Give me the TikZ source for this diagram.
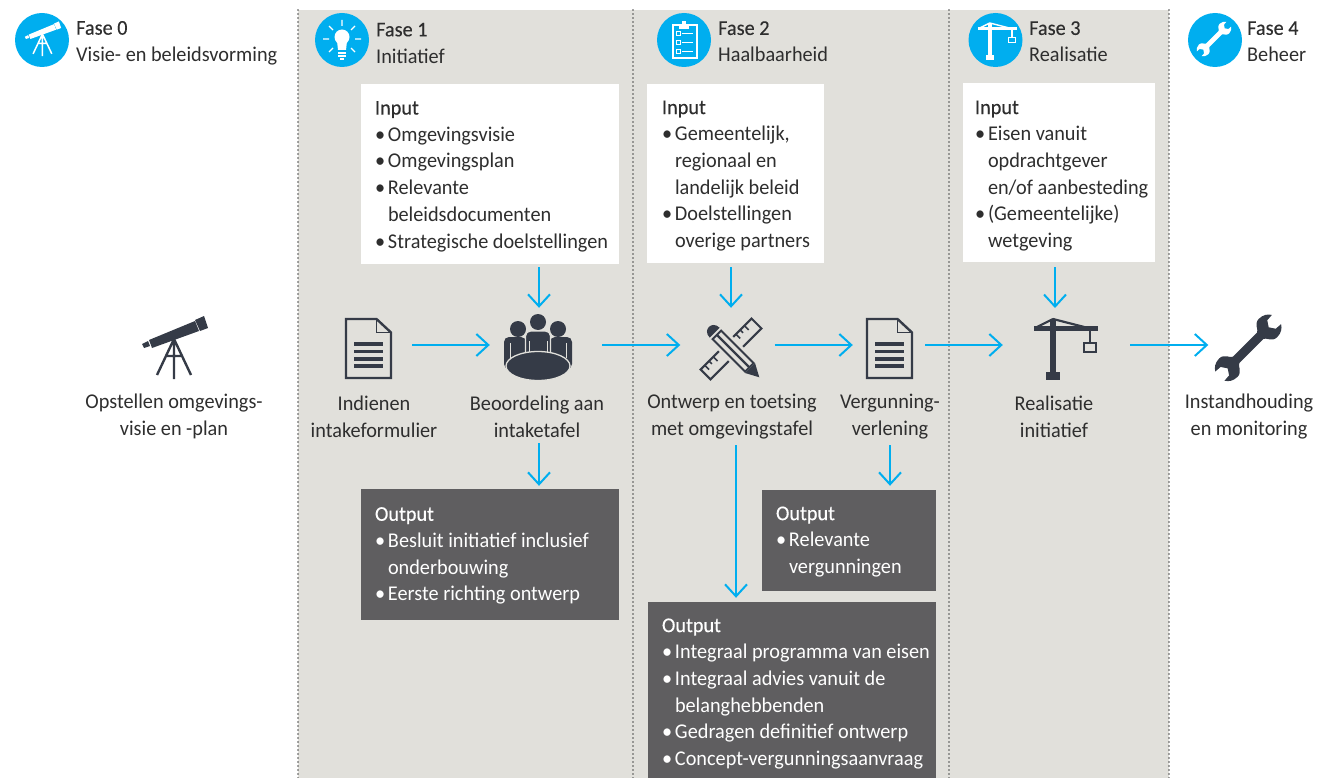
\documentclass[tikz,border=0pt]{standalone}
\usepackage{fontspec}
\setmainfont[FakeStretch=0.965]{Carlito}
\newfontfamily\medfont[FakeStretch=0.965,FakeBold=0.25]{Carlito}
\usetikzlibrary{arrows.meta}
\definecolor{panelgrey}{HTML}{E1E0DB}
\definecolor{outgrey}{HTML}{5F5E60}
\definecolor{flowblue}{HTML}{00AEEF}
\definecolor{icondark}{HTML}{353B47}
\definecolor{txt}{HTML}{2E2E2E}
\newcommand{\bl}{\makebox[13pt][l]{\textbullet}}
\newcommand{\ind}{\hspace*{13pt}}
\newcommand{\hd}[1]{{\medfont #1}}
\newcommand{\boxtxt}[3]{\raisebox{0pt}[\dimexpr\height+#2pt\relax][\depth]{\makebox[#1pt][l]{\begin{tabular}{@{}l@{}}#3\end{tabular}}}}
\tikzset{
 panel/.style={fill=panelgrey,draw=none},
 sep/.style={draw=txt!85,line width=1.6pt,line cap=round,dash pattern=on 0pt off 4pt},
 flow/.style={draw=flowblue,line width=2pt,-{Straight Barb[length=12pt,width=22pt,line width=2pt]}},
 inbox/.style={fill=white,inner sep=0pt,text=txt,align=left,font=\fontsize{21}{26.7}\selectfont,anchor=center},
 outbox/.style={fill=outgrey,inner sep=0pt,text=white,align=left,font=\fontsize{21}{26.7}\selectfont,anchor=center},
 lab/.style={text=txt,align=center,font=\fontsize{21}{26.7}\selectfont,inner sep=0pt},
 faselab/.style={text=txt,align=left,anchor=west,font=\fontsize{21}{26.7}\selectfont,inner sep=0pt},
 circ/.style={fill=flowblue,draw=none,circle,minimum size=54pt,inner sep=0pt},
 slot/.style={inner sep=0pt,draw=none},
 pics/telesc/.style={code={
  \fill[#1] (-26,-8)--(20,-27)--(24,-17)--(-23,0)--cycle;
  \fill[#1] (20,-28)--(29,-32)--(33,-20)--(25,-17)--cycle;
  \fill[#1] (-33,-4)--(-27,-7)--(-25,-2)--(-31,0)--cycle;
  \draw[#1,line width=2pt*\pgfkeysvalueof{/tikz/iconw}] (-1,-9)--(-18,27) (-1,-9)--(16,27) (-1,-9)--(-1,31) (-10,8)--(8,8);
 }},
 pics/crane/.style={code={
  \fill[#1] (-15,-30) rectangle (-9,31);
  \fill[#1] (-31,-23) rectangle (33,-18);
  \fill[#1] (-19,23) rectangle (-5,31);
  \draw[#1,line width=2pt*\pgfkeysvalueof{/tikz/iconw}] (-12,-30)--(-30,-21) (-12,-30)--(27,-20);
  \draw[#1,line width=2pt*\pgfkeysvalueof{/tikz/iconw}] (25,-20)--(25,-6) (19,-6) rectangle (31,3);
 }},
 pics/wrench/.style={code={
  \fill[#1] (4.5,-17) .. controls (5,-20) and (13,-21) .. (13,-28)
    .. controls (13,-34) and (10,-38) .. (6.5,-40) -- (6,-33) -- (0,-29) -- (-6,-33) -- (-6.5,-40)
    .. controls (-10,-38) and (-13,-34) .. (-13,-28)
    .. controls (-13,-21) and (-5,-20) .. (-4.5,-17) -- (-4.5,17)
    .. controls (-5,20) and (-13,21) .. (-13,28)
    .. controls (-13,34) and (-10,38) .. (-6.5,40) -- (-6,33) -- (0,29) -- (6,33) -- (6.5,40)
    .. controls (10,38) and (13,34) .. (13,28)
    .. controls (13,21) and (5,20) .. (4.5,17) -- cycle;
 }},
 iconw/.initial=1,
}
\begin{document}
\begin{tikzpicture}[x=1pt,y=-1pt]
\useasboundingbox (0,0) rectangle (1325,778);
% panels
\fill[panel] (298,10) rectangle (1169,778);
\foreach \x in {298,633,949,1169}{\draw[sep] (\x,10)--(\x,778);}
% headers
\node[circ] (c0) at (42,40) {};
\node[circ] (c1) at (342,40) {};
\node[circ] (c2) at (684,40) {};
\node[circ] (c3) at (995.5,40) {};
\node[circ] (c4) at (1215,40) {};
\pic[scale=.55,iconw=.75] at (43,39) {telesc=white};
% lightbulb
\fill[white] (342,37) circle (7.5);
\fill[white] (337,41)--(347,41)--(346,50)--(338,50)--cycle;
\draw[white,line width=1.6pt] (338,53)--(346,53) (338,56)--(346,56) (340,59)--(344,59);
\draw[white,line width=1.2pt] (342,20)--(342,26) (323,39)--(329,39) (355,39)--(361,39) (329,26)--(333,30) (355,26)--(351,30) (329,52)--(333,48) (355,52)--(351,48);
% clipboard
\draw[white,line width=1.1pt] (673,25) rectangle (697,58);
\fill[white] (679,24) rectangle (689,29);
\fill[white] (682,21.5) rectangle (686,25);
\foreach \y in {34,43,52}{
 \draw[white,line width=.8pt] (676,\y-2.5) rectangle (680,\y+1.5);
 \fill[white] (682,\y-1) rectangle (693,\y+.5);
}
\pic[scale=.6,iconw=.7] at (997,41) {crane=white};
\pic[scale=.52,rotate=-45] at (1214,39) {wrench=white};
\node[faselab] (f0) at (76,43) {\hd{Fase 0}\\Visie- en beleidsvorming};
\node[faselab] (f1) at (376,43) {\hd{Fase 1}\\Initiatief};
\node[faselab] (f2) at (718,41.5) {\hd{Fase 2}\\Haalbaarheid};
\node[faselab] (f3) at (1029,41.5) {\hd{Fase 3}\\Realisatie};
\node[faselab] (f4) at (1247,41.5) {\hd{Fase 4}\\Beheer};
% input boxes
\node[inbox,minimum width=258pt,minimum height=180pt] (in1) at (490,174) {%
 \boxtxt{230}{4}{\hd{Input}\\\bl Omgevingsvisie\\\bl Omgevingsplan\\\bl Relevante\\\ind beleidsdocumenten\\\bl Strategische doelstellingen}};
\node[inbox,minimum width=177pt,minimum height=179pt] (in2) at (735.5,173.5) {%
 \boxtxt{147}{4}{\hd{Input}\\\bl Gemeentelijk,\\\ind regionaal en\\\ind landelijk beleid\\\bl Doelstellingen\\\ind overige partners}};
\node[inbox,minimum width=192pt,minimum height=179pt] (in3) at (1059,172.5) {%
 \boxtxt{168}{6}{\hd{Input}\\\bl Eisen vanuit\\\ind opdrachtgever\\\ind en/of aanbesteding\\\bl (Gemeentelijke)\\\ind wetgeving}};
% output boxes
\node[outbox,minimum width=258pt,minimum height=131pt] (out1) at (490,554.5) {%
 \boxtxt{230}{2}{\hd{Output}\\\bl Besluit initiatief inclusief\\\ind onderbouwing\\\bl Eerste richting ontwerp}};
\node[outbox,minimum width=174pt,minimum height=101pt] (out2) at (849,540.5) {%
 \boxtxt{146}{2}{\hd{Output}\\\bl Relevante\\\ind vergunningen}};
\node[outbox,minimum width=288pt,minimum height=176pt] (out3) at (792,690) {%
 \boxtxt{260}{7}{\hd{Output}\\\bl Integraal programma van eisen\\\bl Integraal advies vanuit de\\\ind belanghebbenden\\\bl Gedragen definitief ontwerp\\\bl Concept-vergunningsaanvraag}};
% icon slots
\node[slot,minimum width=66pt,minimum height=64pt] (ntele) at (175,348) {};
\node[slot,minimum width=47pt,minimum height=61pt] (ndoc1) at (368.5,345) {};
\node[slot,minimum width=68pt,minimum height=64pt] (ntable) at (539,345) {};
\node[slot,minimum width=61pt,minimum height=62pt] (npencil) at (731,345) {};
\node[slot,minimum width=47pt,minimum height=61pt] (ndoc2) at (889.5,345) {};
\node[slot,minimum width=63pt,minimum height=61pt] (ncrane) at (1065.5,345) {};
\node[slot,minimum width=65pt,minimum height=64pt] (nwrench) at (1251,345) {};
% telescope
\pic[iconw=1.2] at (ntele) {telesc=icondark};
% documents
\foreach \n in {ndoc1,ndoc2}{
 \begin{scope}[shift={(\n)},yshift=-3.5pt]
  \draw[icondark,line width=2.4pt,line join=miter] (-22.5,-29.5)--(8,-29.5)--(22.5,-16)--(22.5,29.5)--(-22.5,29.5)--cycle;
  \draw[icondark,line width=1.8pt] (8,-29.5)--(8,-16)--(22.5,-16);
  \foreach \y in {-4.5,3,10.5,17.5}{\fill[icondark] (-14.5,\y-1.8) rectangle (14.5,\y+1.8);}
 \end{scope}
}
% meeting table
\begin{scope}[shift={(ntable)}]
 \fill[icondark] (-21,-16) circle (8) (19,-16) circle (8) (-1,-23) circle (8);
 \fill[icondark,rounded corners=5pt] (-35,24) -- (-35,-8) -- (-13,-8) -- (-13,24) -- cycle;
 \fill[icondark,rounded corners=5pt] (33,24) -- (33,-8) -- (11,-8) -- (11,24) -- cycle;
 \draw[panelgrey,line width=1.2pt,fill=icondark,rounded corners=5pt] (-13.5,18) -- (-13.5,-14) -- (11.5,-14) -- (11.5,18) -- cycle;
 \draw[panelgrey,line width=1pt] (-10,-4)--(-10,9) (8,-4)--(8,9) (-29,-2)--(-29,13) (27,-2)--(27,13);
 \draw[panelgrey,line width=1.3pt,fill=icondark] (-1,21) ellipse (32 and 14.5);
\end{scope}
% ruler
\begin{scope}[shift={(npencil)},yshift=-4pt,rotate=45]
 \draw[icondark,line width=2pt] (-36,-7) rectangle (36,7);
 \foreach \x/\l in {-30/-1,-24/-3,-18/-1,14/-1,20/-3,26/-1}{\draw[icondark,line width=1.6pt] (\x,-7)--(\x,\l);}
\end{scope}
% pencil
\begin{scope}[shift={(npencil)},yshift=-4pt,rotate=-45]
 \fill[panelgrey] (-33,-10) rectangle (32,10);
 \fill[icondark] (-23,-7) .. controls (-34,-7) and (-34,7) .. (-23,7) -- cycle;
 \draw[icondark,line width=2pt] (-20,-6) rectangle (26,6);
 \fill[icondark] (-20,-1.2) rectangle (26,1.2);
 \fill[icondark] (27,-7)--(40,0)--(27,7)--cycle;
\end{scope}
% crane, wrench
\pic[iconw=1.1] at (1065,349) {crane=icondark};
\pic[rotate=-45,yshift=-4pt] at (nwrench) {wrench=icondark};
% labels
\node[lab] (l0) at (174,416.5) {Opstellen omgevings-\\visie en -plan};
\node[lab] (l1) at (374,416.5) {Indienen\\intakeformulier};
\node[lab] (l2) at (537,416.5) {Beoordeling aan\\intaketafel};
\node[lab] (l3) at (732,416.5) {Ontwerp en toetsing\\met omgevingstafel};
\node[lab] (l4) at (890,416.5) {Vergunning-\\verlening};
\node[lab] (l5) at (1054,416.5) {Realisatie\\initiatief};
\node[lab] (l6) at (1249,416.5) {Instandhouding\\en monitoring};
% connectors
\draw[flow,shorten <=20pt,shorten >=15pt] (ndoc1.east)--(ntable.west);
\draw[flow,shorten <=29pt,shorten >=20pt] (ntable.east)--(npencil.west);
\draw[flow,shorten <=13pt,shorten >=13pt] (npencil.east)--(ndoc2.west);
\draw[flow,shorten <=12pt,shorten >=31pt] (ndoc2.east)--(ncrane.west);
\draw[flow,shorten <=33pt,shorten >=10pt] (ncrane.east)--(nwrench.west);
\draw[flow,shorten <=3pt,shorten >=5pt] (in1.south -| ntable.north)--(ntable.north);
\draw[flow,shorten <=4pt,shorten >=6pt] (in2.south -| npencil.north)--(npencil.north);
\coordinate (cranetop) at (1055,314);
\draw[flow,shorten <=5pt,shorten >=6pt] (in3.south -| cranetop)--(cranetop);
\draw[flow,shorten <=6pt,shorten >=3pt] (l2.south -| ntable.south)--(out1.north -| ntable.south);
\draw[flow,shorten <=6pt,shorten >=4pt] (l4.south)--(out2.north -| l4.south);
\coordinate (o3x) at (736,500);
\draw[flow,shorten <=6pt,shorten >=4pt] (l3.south -| o3x)--(out3.north -| o3x);
\end{tikzpicture}
\end{document}
